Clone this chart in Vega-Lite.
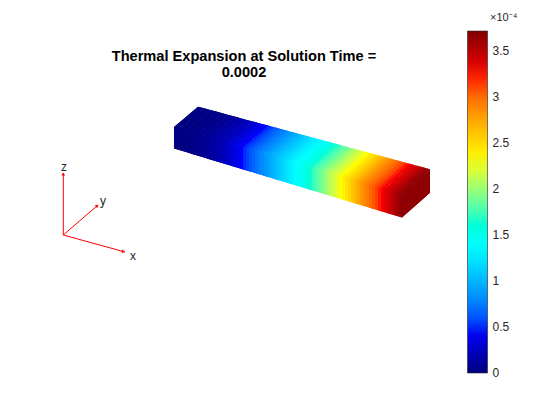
{"$schema":"https://vega.github.io/schema/vega-lite/v6.json","width":560,"height":420,"padding":0,"autosize":"none","background":"white","config":{"view":{"stroke":null}},
"title":{"text":["Thermal Expansion at Solution Time =","0.0002"],"font":"Liberation Sans","fontSize":14.6,"fontWeight":"bold","color":"#000000","anchor":"middle","frame":"group","dx":-36,"offset":-80,"lineHeight":16},
"datasets":{"beam":[
{"i":0,"v":0,"x":174,"y":148.5,"y2":127},{"i":0,"v":0,"x":180,"y":150.3,"y2":121.9},{"i":0,"v":0,"x":180,"y":128.8,"y2":121.9},{"i":0,"v":0,"x":198,"y":113.5,"y2":106.7},{"i":0,"v":0,"x":204.1,"y":108.3,"y2":108.3},
{"i":1,"v":0.01,"x":180,"y":150.3,"y2":128.8},{"i":1,"v":0.01,"x":186,"y":152.1,"y2":123.7},{"i":1,"v":0.01,"x":186,"y":130.6,"y2":123.7},{"i":1,"v":0.01,"x":204.1,"y":115.2,"y2":108.3},{"i":1,"v":0.01,"x":210.2,"y":110,"y2":110},
{"i":2,"v":0.02,"x":186,"y":152.1,"y2":130.6},{"i":2,"v":0.02,"x":192,"y":153.9,"y2":125.5},{"i":2,"v":0.02,"x":192,"y":132.4,"y2":125.5},{"i":2,"v":0.02,"x":210.2,"y":116.8,"y2":110},{"i":2,"v":0.02,"x":216.3,"y":111.6,"y2":111.6},
{"i":3,"v":0.03,"x":192,"y":153.9,"y2":132.4},{"i":3,"v":0.03,"x":198,"y":155.8,"y2":127.2},{"i":3,"v":0.03,"x":198,"y":134.2,"y2":127.2},{"i":3,"v":0.03,"x":216.3,"y":118.5,"y2":111.6},{"i":3,"v":0.03,"x":222.4,"y":113.3,"y2":113.3},
{"i":4,"v":0.05,"x":198,"y":155.8,"y2":134.2},{"i":4,"v":0.05,"x":204,"y":157.6,"y2":129},{"i":4,"v":0.05,"x":204,"y":135.9,"y2":129},{"i":4,"v":0.05,"x":222.4,"y":120.2,"y2":113.3},{"i":4,"v":0.05,"x":228.5,"y":114.9,"y2":114.9},
{"i":5,"v":0.09,"x":204,"y":157.6,"y2":135.9},{"i":5,"v":0.09,"x":210,"y":159.4,"y2":130.8},{"i":5,"v":0.09,"x":210,"y":137.7,"y2":130.8},{"i":5,"v":0.09,"x":228.5,"y":121.8,"y2":114.9},{"i":5,"v":0.09,"x":234.6,"y":116.6,"y2":116.6},
{"i":6,"v":0.13,"x":210,"y":159.4,"y2":137.7},{"i":6,"v":0.13,"x":216,"y":161.2,"y2":132.6},{"i":6,"v":0.13,"x":216,"y":139.5,"y2":132.6},{"i":6,"v":0.13,"x":234.6,"y":123.5,"y2":116.6},{"i":6,"v":0.13,"x":240.7,"y":118.2,"y2":118.2},
{"i":7,"v":0.17,"x":216,"y":161.2,"y2":139.5},{"i":7,"v":0.17,"x":222,"y":163,"y2":134.3},{"i":7,"v":0.17,"x":222,"y":141.3,"y2":134.3},{"i":7,"v":0.17,"x":240.7,"y":125.2,"y2":118.2},{"i":7,"v":0.17,"x":246.8,"y":119.9,"y2":119.9},
{"i":8,"v":0.222,"x":222,"y":163,"y2":141.3},{"i":8,"v":0.222,"x":225,"y":163.9,"y2":138.7},{"i":8,"v":0.222,"x":225,"y":142.2,"y2":138.7},{"i":8,"v":0.222,"x":246.8,"y":123.4,"y2":119.9},{"i":8,"v":0.222,"x":249.9,"y":120.7,"y2":120.7},
{"i":8.5,"v":0.258,"x":225,"y":163.9,"y2":142.2},{"i":8.5,"v":0.258,"x":228,"y":164.8,"y2":139.6},{"i":8.5,"v":0.258,"x":228,"y":143.1,"y2":139.6},{"i":8.5,"v":0.258,"x":249.9,"y":124.2,"y2":120.7},{"i":8.5,"v":0.258,"x":253,"y":121.5,"y2":121.5},
{"i":9,"v":0.292,"x":228,"y":164.8,"y2":143.1},{"i":9,"v":0.292,"x":231,"y":165.8,"y2":140.5},{"i":9,"v":0.292,"x":231,"y":144,"y2":140.5},{"i":9,"v":0.292,"x":253,"y":125,"y2":121.5},{"i":9,"v":0.292,"x":256,"y":122.3,"y2":122.3},
{"i":9.5,"v":0.33,"x":231,"y":165.8,"y2":144},{"i":9.5,"v":0.33,"x":234,"y":166.7,"y2":141.4},{"i":9.5,"v":0.33,"x":234,"y":144.9,"y2":141.4},{"i":9.5,"v":0.33,"x":256,"y":125.9,"y2":122.3},{"i":9.5,"v":0.33,"x":259.1,"y":123.2,"y2":123.2},
{"i":10,"v":0.37,"x":234,"y":166.7,"y2":144.9},{"i":10,"v":0.37,"x":237,"y":167.6,"y2":142.3},{"i":10,"v":0.37,"x":237,"y":145.8,"y2":142.3},{"i":10,"v":0.37,"x":259.1,"y":126.7,"y2":123.2},{"i":10,"v":0.37,"x":262.1,"y":124,"y2":124},
{"i":10.5,"v":0.41,"x":237,"y":167.6,"y2":145.8},{"i":10.5,"v":0.41,"x":240,"y":168.5,"y2":143.2},{"i":10.5,"v":0.41,"x":240,"y":146.7,"y2":143.2},{"i":10.5,"v":0.41,"x":262.1,"y":127.5,"y2":124},{"i":10.5,"v":0.41,"x":265.2,"y":124.8,"y2":124.8},
{"i":11,"v":0.45,"x":240,"y":168.5,"y2":146.7},{"i":11,"v":0.45,"x":243,"y":169.4,"y2":144.1},{"i":11,"v":0.45,"x":243,"y":147.6,"y2":144.1},{"i":11,"v":0.45,"x":265.2,"y":128.4,"y2":124.8},{"i":11,"v":0.45,"x":268.2,"y":125.6,"y2":125.6},
{"i":11.5,"v":0.5,"x":243,"y":169.4,"y2":147.6},{"i":11.5,"v":0.5,"x":246,"y":170.3,"y2":145},{"i":11.5,"v":0.5,"x":246,"y":148.5,"y2":145},{"i":11.5,"v":0.5,"x":268.2,"y":129.2,"y2":125.6},{"i":11.5,"v":0.5,"x":271.3,"y":126.5,"y2":126.5},
{"i":12,"v":0.55,"x":246,"y":170.3,"y2":148.5},{"i":12,"v":0.55,"x":249,"y":171.2,"y2":145.9},{"i":12,"v":0.55,"x":249,"y":149.4,"y2":145.9},{"i":12,"v":0.55,"x":271.3,"y":130,"y2":126.5},{"i":12,"v":0.55,"x":274.3,"y":127.3,"y2":127.3},
{"i":12.5,"v":0.605,"x":249,"y":171.2,"y2":149.4},{"i":12.5,"v":0.605,"x":252,"y":172.1,"y2":146.8},{"i":12.5,"v":0.605,"x":252,"y":150.3,"y2":146.8},{"i":12.5,"v":0.605,"x":274.3,"y":130.8,"y2":127.3},{"i":12.5,"v":0.605,"x":277.4,"y":128.1,"y2":128.1},
{"i":13,"v":0.655,"x":252,"y":172.1,"y2":150.3},{"i":13,"v":0.655,"x":255,"y":173,"y2":147.6},{"i":13,"v":0.655,"x":255,"y":151.2,"y2":147.6},{"i":13,"v":0.655,"x":277.4,"y":131.7,"y2":128.1},{"i":13,"v":0.655,"x":280.4,"y":128.9,"y2":128.9},
{"i":13.5,"v":0.705,"x":255,"y":173,"y2":151.2},{"i":13.5,"v":0.705,"x":258,"y":173.9,"y2":148.5},{"i":13.5,"v":0.705,"x":258,"y":152,"y2":148.5},{"i":13.5,"v":0.705,"x":280.4,"y":132.5,"y2":128.9},{"i":13.5,"v":0.705,"x":283.5,"y":129.8,"y2":129.8},
{"i":14,"v":0.755,"x":258,"y":173.9,"y2":152},{"i":14,"v":0.755,"x":261,"y":174.8,"y2":149.4},{"i":14,"v":0.755,"x":261,"y":152.9,"y2":149.4},{"i":14,"v":0.755,"x":283.5,"y":133.3,"y2":129.8},{"i":14,"v":0.755,"x":286.5,"y":130.6,"y2":130.6},
{"i":14.5,"v":0.805,"x":261,"y":174.8,"y2":152.9},{"i":14.5,"v":0.805,"x":264,"y":175.7,"y2":150.3},{"i":14.5,"v":0.805,"x":264,"y":153.8,"y2":150.3},{"i":14.5,"v":0.805,"x":286.5,"y":134.1,"y2":130.6},{"i":14.5,"v":0.805,"x":289.6,"y":131.4,"y2":131.4},
{"i":15,"v":0.855,"x":264,"y":175.7,"y2":153.8},{"i":15,"v":0.855,"x":267,"y":176.7,"y2":151.2},{"i":15,"v":0.855,"x":267,"y":154.7,"y2":151.2},{"i":15,"v":0.855,"x":289.6,"y":135,"y2":131.4},{"i":15,"v":0.855,"x":292.6,"y":132.2,"y2":132.2},
{"i":15.5,"v":0.905,"x":267,"y":176.7,"y2":154.7},{"i":15.5,"v":0.905,"x":270,"y":177.6,"y2":152.1},{"i":15.5,"v":0.905,"x":270,"y":155.6,"y2":152.1},{"i":15.5,"v":0.905,"x":292.6,"y":135.8,"y2":132.2},{"i":15.5,"v":0.905,"x":295.7,"y":133.1,"y2":133.1},
{"i":16,"v":0.955,"x":270,"y":177.6,"y2":155.6},{"i":16,"v":0.955,"x":273,"y":178.5,"y2":153},{"i":16,"v":0.955,"x":273,"y":156.5,"y2":153},{"i":16,"v":0.955,"x":295.7,"y":136.6,"y2":133.1},{"i":16,"v":0.955,"x":298.7,"y":133.9,"y2":133.9},
{"i":16.5,"v":1.01,"x":273,"y":178.5,"y2":156.5},{"i":16.5,"v":1.01,"x":276,"y":179.4,"y2":153.9},{"i":16.5,"v":1.01,"x":276,"y":157.4,"y2":153.9},{"i":16.5,"v":1.01,"x":298.7,"y":137.4,"y2":133.9},{"i":16.5,"v":1.01,"x":301.8,"y":134.7,"y2":134.7},
{"i":17,"v":1.06,"x":276,"y":179.4,"y2":157.4},{"i":17,"v":1.06,"x":279,"y":180.3,"y2":154.8},{"i":17,"v":1.06,"x":279,"y":158.3,"y2":154.8},{"i":17,"v":1.06,"x":301.8,"y":138.3,"y2":134.7},{"i":17,"v":1.06,"x":304.8,"y":135.5,"y2":135.5},
{"i":17.5,"v":1.115,"x":279,"y":180.3,"y2":158.3},{"i":17.5,"v":1.115,"x":282,"y":181.2,"y2":155.7},{"i":17.5,"v":1.115,"x":282,"y":159.2,"y2":155.7},{"i":17.5,"v":1.115,"x":304.8,"y":139.1,"y2":135.5},{"i":17.5,"v":1.115,"x":307.9,"y":136.3,"y2":136.3},
{"i":18,"v":1.165,"x":282,"y":181.2,"y2":159.2},{"i":18,"v":1.165,"x":285,"y":182.1,"y2":156.6},{"i":18,"v":1.165,"x":285,"y":160.1,"y2":156.6},{"i":18,"v":1.165,"x":307.9,"y":139.9,"y2":136.3},{"i":18,"v":1.165,"x":310.9,"y":137.2,"y2":137.2},
{"i":18.5,"v":1.22,"x":285,"y":182.1,"y2":160.1},{"i":18.5,"v":1.22,"x":288,"y":183,"y2":157.4},{"i":18.5,"v":1.22,"x":288,"y":161,"y2":157.4},{"i":18.5,"v":1.22,"x":310.9,"y":140.8,"y2":137.2},{"i":18.5,"v":1.22,"x":314,"y":138,"y2":138},
{"i":19,"v":1.27,"x":288,"y":183,"y2":161},{"i":19,"v":1.27,"x":291,"y":183.9,"y2":158.3},{"i":19,"v":1.27,"x":291,"y":161.9,"y2":158.3},{"i":19,"v":1.27,"x":314,"y":141.6,"y2":138},{"i":19,"v":1.27,"x":317,"y":138.8,"y2":138.8},
{"i":19.5,"v":1.32,"x":291,"y":183.9,"y2":161.9},{"i":19.5,"v":1.32,"x":294,"y":184.8,"y2":159.2},{"i":19.5,"v":1.32,"x":294,"y":162.8,"y2":159.2},{"i":19.5,"v":1.32,"x":317,"y":142.4,"y2":138.8},{"i":19.5,"v":1.32,"x":320.1,"y":139.6,"y2":139.6},
{"i":20,"v":1.37,"x":294,"y":184.8,"y2":162.8},{"i":20,"v":1.37,"x":297,"y":185.7,"y2":160.1},{"i":20,"v":1.37,"x":297,"y":163.7,"y2":160.1},{"i":20,"v":1.37,"x":320.1,"y":143.2,"y2":139.6},{"i":20,"v":1.37,"x":323.2,"y":140.5,"y2":140.5},
{"i":20.5,"v":1.42,"x":297,"y":185.7,"y2":163.7},{"i":20.5,"v":1.42,"x":300,"y":186.6,"y2":161},{"i":20.5,"v":1.42,"x":300,"y":164.6,"y2":161},{"i":20.5,"v":1.42,"x":323.2,"y":144.1,"y2":140.5},{"i":20.5,"v":1.42,"x":326.2,"y":141.3,"y2":141.3},
{"i":21,"v":1.47,"x":300,"y":186.6,"y2":164.6},{"i":21,"v":1.47,"x":303,"y":187.5,"y2":161.9},{"i":21,"v":1.47,"x":303,"y":165.5,"y2":161.9},{"i":21,"v":1.47,"x":326.2,"y":144.9,"y2":141.3},{"i":21,"v":1.47,"x":329.3,"y":142.1,"y2":142.1},
{"i":21.5,"v":1.53,"x":303,"y":187.5,"y2":165.5},{"i":21.5,"v":1.53,"x":306,"y":188.5,"y2":162.8},{"i":21.5,"v":1.53,"x":306,"y":166.4,"y2":162.8},{"i":21.5,"v":1.53,"x":329.3,"y":145.7,"y2":142.1},{"i":21.5,"v":1.53,"x":332.3,"y":142.9,"y2":142.9},
{"i":22,"v":1.59,"x":306,"y":188.5,"y2":166.4},{"i":22,"v":1.59,"x":309,"y":189.4,"y2":163.7},{"i":22,"v":1.59,"x":309,"y":167.3,"y2":163.7},{"i":22,"v":1.59,"x":332.3,"y":146.5,"y2":142.9},{"i":22,"v":1.59,"x":335.4,"y":143.8,"y2":143.8},
{"i":22.5,"v":1.65,"x":309,"y":189.4,"y2":167.3},{"i":22.5,"v":1.65,"x":312,"y":190.3,"y2":164.6},{"i":22.5,"v":1.65,"x":312,"y":168.2,"y2":164.6},{"i":22.5,"v":1.65,"x":335.4,"y":147.4,"y2":143.8},{"i":22.5,"v":1.65,"x":338.4,"y":144.6,"y2":144.6},
{"i":23,"v":1.72,"x":312,"y":190.3,"y2":168.2},{"i":23,"v":1.72,"x":315,"y":191.2,"y2":165.5},{"i":23,"v":1.72,"x":315,"y":169,"y2":165.5},{"i":23,"v":1.72,"x":338.4,"y":148.2,"y2":144.6},{"i":23,"v":1.72,"x":341.5,"y":145.4,"y2":145.4},
{"i":23.5,"v":1.78,"x":315,"y":191.2,"y2":169},{"i":23.5,"v":1.78,"x":318,"y":192.1,"y2":166.4},{"i":23.5,"v":1.78,"x":318,"y":169.9,"y2":166.4},{"i":23.5,"v":1.78,"x":341.5,"y":149,"y2":145.4},{"i":23.5,"v":1.78,"x":344.5,"y":146.2,"y2":146.2},
{"i":24,"v":1.84,"x":318,"y":192.1,"y2":169.9},{"i":24,"v":1.84,"x":321,"y":193,"y2":167.3},{"i":24,"v":1.84,"x":321,"y":170.8,"y2":167.3},{"i":24,"v":1.84,"x":344.5,"y":149.8,"y2":146.2},{"i":24,"v":1.84,"x":347.6,"y":147.1,"y2":147.1},
{"i":24.5,"v":1.91,"x":321,"y":193,"y2":170.8},{"i":24.5,"v":1.91,"x":324,"y":193.9,"y2":168.1},{"i":24.5,"v":1.91,"x":324,"y":171.7,"y2":168.1},{"i":24.5,"v":1.91,"x":347.6,"y":150.7,"y2":147.1},{"i":24.5,"v":1.91,"x":350.6,"y":147.9,"y2":147.9},
{"i":25,"v":1.99,"x":324,"y":193.9,"y2":171.7},{"i":25,"v":1.99,"x":327,"y":194.8,"y2":169},{"i":25,"v":1.99,"x":327,"y":172.6,"y2":169},{"i":25,"v":1.99,"x":350.6,"y":151.5,"y2":147.9},{"i":25,"v":1.99,"x":353.7,"y":148.7,"y2":148.7},
{"i":25.5,"v":2.06,"x":327,"y":194.8,"y2":172.6},{"i":25.5,"v":2.06,"x":330,"y":195.7,"y2":169.9},{"i":25.5,"v":2.06,"x":330,"y":173.5,"y2":169.9},{"i":25.5,"v":2.06,"x":353.7,"y":152.3,"y2":148.7},{"i":25.5,"v":2.06,"x":356.7,"y":149.5,"y2":149.5},
{"i":26,"v":2.12,"x":330,"y":195.7,"y2":173.5},{"i":26,"v":2.12,"x":333,"y":196.6,"y2":170.8},{"i":26,"v":2.12,"x":333,"y":174.4,"y2":170.8},{"i":26,"v":2.12,"x":356.7,"y":153.1,"y2":149.5},{"i":26,"v":2.12,"x":359.8,"y":150.3,"y2":150.3},
{"i":26.5,"v":2.18,"x":333,"y":196.6,"y2":174.4},{"i":26.5,"v":2.18,"x":336,"y":197.5,"y2":171.7},{"i":26.5,"v":2.18,"x":336,"y":175.3,"y2":171.7},{"i":26.5,"v":2.18,"x":359.8,"y":154,"y2":150.3},{"i":26.5,"v":2.18,"x":362.8,"y":151.2,"y2":151.2},
{"i":27,"v":2.24,"x":336,"y":197.5,"y2":175.3},{"i":27,"v":2.24,"x":339,"y":198.4,"y2":172.6},{"i":27,"v":2.24,"x":339,"y":176.2,"y2":172.6},{"i":27,"v":2.24,"x":362.8,"y":154.8,"y2":151.2},{"i":27,"v":2.24,"x":365.9,"y":152,"y2":152},
{"i":27.5,"v":2.31,"x":339,"y":198.4,"y2":176.2},{"i":27.5,"v":2.31,"x":342,"y":199.3,"y2":173.5},{"i":27.5,"v":2.31,"x":342,"y":177.1,"y2":173.5},{"i":27.5,"v":2.31,"x":365.9,"y":155.6,"y2":152},{"i":27.5,"v":2.31,"x":368.9,"y":152.8,"y2":152.8},
{"i":28,"v":2.37,"x":342,"y":199.3,"y2":177.1},{"i":28,"v":2.37,"x":345,"y":200.3,"y2":174.4},{"i":28,"v":2.37,"x":345,"y":178,"y2":174.4},{"i":28,"v":2.37,"x":368.9,"y":156.4,"y2":152.8},{"i":28,"v":2.37,"x":372,"y":153.6,"y2":153.6},
{"i":28.5,"v":2.45,"x":345,"y":200.3,"y2":178},{"i":28.5,"v":2.45,"x":348,"y":201.2,"y2":175.3},{"i":28.5,"v":2.45,"x":348,"y":178.9,"y2":175.3},{"i":28.5,"v":2.45,"x":372,"y":157.3,"y2":153.6},{"i":28.5,"v":2.45,"x":375.1,"y":154.5,"y2":154.5},
{"i":29,"v":2.52,"x":348,"y":201.2,"y2":178.9},{"i":29,"v":2.52,"x":351,"y":202.1,"y2":176.2},{"i":29,"v":2.52,"x":351,"y":179.8,"y2":176.2},{"i":29,"v":2.52,"x":375.1,"y":158.1,"y2":154.5},{"i":29,"v":2.52,"x":378.1,"y":155.3,"y2":155.3},
{"i":29.5,"v":2.6,"x":351,"y":202.1,"y2":179.8},{"i":29.5,"v":2.6,"x":354,"y":203,"y2":177.1},{"i":29.5,"v":2.6,"x":354,"y":180.7,"y2":177.1},{"i":29.5,"v":2.6,"x":378.1,"y":158.9,"y2":155.3},{"i":29.5,"v":2.6,"x":381.2,"y":156.1,"y2":156.1},
{"i":30,"v":2.67,"x":354,"y":203,"y2":180.7},{"i":30,"v":2.67,"x":357,"y":203.9,"y2":178},{"i":30,"v":2.67,"x":357,"y":181.6,"y2":178},{"i":30,"v":2.67,"x":381.2,"y":159.7,"y2":156.1},{"i":30,"v":2.67,"x":384.2,"y":156.9,"y2":156.9},
{"i":30.5,"v":2.745,"x":357,"y":203.9,"y2":181.6},{"i":30.5,"v":2.745,"x":360,"y":204.8,"y2":178.8},{"i":30.5,"v":2.745,"x":360,"y":182.5,"y2":178.8},{"i":30.5,"v":2.745,"x":384.2,"y":160.5,"y2":156.9},{"i":30.5,"v":2.745,"x":387.3,"y":157.8,"y2":157.8},
{"i":31,"v":2.815,"x":360,"y":204.8,"y2":182.5},{"i":31,"v":2.815,"x":363,"y":205.7,"y2":179.7},{"i":31,"v":2.815,"x":363,"y":183.4,"y2":179.7},{"i":31,"v":2.815,"x":387.3,"y":161.4,"y2":157.8},{"i":31,"v":2.815,"x":390.3,"y":158.6,"y2":158.6},
{"i":31.5,"v":2.88,"x":363,"y":205.7,"y2":183.4},{"i":31.5,"v":2.88,"x":366,"y":206.6,"y2":180.6},{"i":31.5,"v":2.88,"x":366,"y":184.3,"y2":180.6},{"i":31.5,"v":2.88,"x":390.3,"y":162.2,"y2":158.6},{"i":31.5,"v":2.88,"x":393.4,"y":159.4,"y2":159.4},
{"i":32,"v":2.94,"x":366,"y":206.6,"y2":184.3},{"i":32,"v":2.94,"x":369,"y":207.5,"y2":181.5},{"i":32,"v":2.94,"x":369,"y":185.1,"y2":181.5},{"i":32,"v":2.94,"x":393.4,"y":163,"y2":159.4},{"i":32,"v":2.94,"x":396.4,"y":160.2,"y2":160.2},
{"i":32.5,"v":3.005,"x":369,"y":207.5,"y2":185.1},{"i":32.5,"v":3.005,"x":372,"y":208.4,"y2":182.4},{"i":32.5,"v":3.005,"x":372,"y":186,"y2":182.4},{"i":32.5,"v":3.005,"x":396.4,"y":163.8,"y2":160.2},{"i":32.5,"v":3.005,"x":399.5,"y":161.1,"y2":161.1},
{"i":33,"v":3.075,"x":372,"y":208.4,"y2":186},{"i":33,"v":3.075,"x":375,"y":209.3,"y2":183.3},{"i":33,"v":3.075,"x":375,"y":186.9,"y2":183.3},{"i":33,"v":3.075,"x":399.5,"y":164.7,"y2":161.1},{"i":33,"v":3.075,"x":402.5,"y":161.9,"y2":161.9},
{"i":33.5,"v":3.14,"x":375,"y":209.3,"y2":186.9},{"i":33.5,"v":3.14,"x":378,"y":210.2,"y2":184.2},{"i":33.5,"v":3.14,"x":378,"y":187.8,"y2":184.2},{"i":33.5,"v":3.14,"x":402.5,"y":165.5,"y2":161.9},{"i":33.5,"v":3.14,"x":405.6,"y":162.7,"y2":162.7},
{"i":34,"v":3.21,"x":378,"y":210.2,"y2":187.8},{"i":34,"v":3.21,"x":381,"y":211.2,"y2":185.1},{"i":34,"v":3.21,"x":381,"y":188.7,"y2":185.1},{"i":34,"v":3.21,"x":405.6,"y":166.3,"y2":162.7},{"i":34,"v":3.21,"x":408.6,"y":163.5,"y2":163.5},
{"i":34.5,"v":3.27,"x":381,"y":211.2,"y2":188.7},{"i":34.5,"v":3.27,"x":384,"y":212.1,"y2":186},{"i":34.5,"v":3.27,"x":384,"y":189.6,"y2":186},{"i":34.5,"v":3.27,"x":408.6,"y":167.1,"y2":163.5},{"i":34.5,"v":3.27,"x":411.7,"y":164.3,"y2":164.3},
{"i":35,"v":3.34,"x":384,"y":212.1,"y2":189.6},{"i":35,"v":3.34,"x":387,"y":213,"y2":186.9},{"i":35,"v":3.34,"x":387,"y":190.5,"y2":186.9},{"i":35,"v":3.34,"x":411.7,"y":168,"y2":164.3},{"i":35,"v":3.34,"x":414.7,"y":165.2,"y2":165.2},
{"i":35.5,"v":3.4,"x":387,"y":213,"y2":190.5},{"i":35.5,"v":3.4,"x":390,"y":213.9,"y2":187.8},{"i":35.5,"v":3.4,"x":390,"y":191.4,"y2":187.8},{"i":35.5,"v":3.4,"x":414.7,"y":168.8,"y2":165.2},{"i":35.5,"v":3.4,"x":417.8,"y":166,"y2":166},
{"i":36,"v":3.47,"x":390,"y":213.9,"y2":191.4},{"i":36,"v":3.47,"x":393,"y":214.8,"y2":188.6},{"i":36,"v":3.47,"x":393,"y":192.3,"y2":188.6},{"i":36,"v":3.47,"x":417.8,"y":169.6,"y2":166},{"i":36,"v":3.47,"x":420.8,"y":166.8,"y2":166.8},
{"i":36.5,"v":3.53,"x":393,"y":214.8,"y2":192.3},{"i":36.5,"v":3.53,"x":396,"y":215.7,"y2":189.5},{"i":36.5,"v":3.53,"x":396,"y":193.2,"y2":189.5},{"i":36.5,"v":3.53,"x":420.8,"y":170.4,"y2":166.8},{"i":36.5,"v":3.53,"x":423.9,"y":167.6,"y2":167.6},
{"i":37,"v":3.6,"x":396,"y":215.7,"y2":193.2},{"i":37,"v":3.6,"x":399,"y":216.6,"y2":190.4},{"i":37,"v":3.6,"x":399,"y":194.1,"y2":190.4},{"i":37,"v":3.6,"x":423.9,"y":171.2,"y2":167.6},{"i":37,"v":3.6,"x":426.9,"y":168.5,"y2":168.5},
{"i":37.5,"v":3.65,"x":399,"y":216.6,"y2":194.1},{"i":37.5,"v":3.65,"x":402,"y":217.5,"y2":191.3},{"i":37.5,"v":3.65,"x":402,"y":195,"y2":191.3},{"i":37.5,"v":3.65,"x":426.9,"y":172.1,"y2":168.5},{"i":37.5,"v":3.65,"x":430,"y":169.3,"y2":169.3},
{"i":38,"v":3.66,"x":402,"y":217.5,"y2":195},{"i":38,"v":3.66,"x":430,"y":192.7,"y2":169.3}
],
"triad":[{"a":"x","x":63.3,"y":235,"x2":125,"y2":252,"hx":123.5,"hy":251.6,"dir":105},{"a":"y","x":63.3,"y":235,"x2":98,"y2":205,"hx":97.2,"hy":205.7,"dir":49},{"a":"z","x":63.3,"y":235,"x2":63.3,"y2":173,"hx":63.3,"hy":174,"dir":0}],
"axisLabels":[{"t":"x","x":133,"y":256},{"t":"y","x":103,"y":201},{"t":"z","x":64,"y":167}],
"ticks":[{"v":0.5,"y":327.3},{"v":1,"y":281.3},{"v":1.5,"y":235.3},{"v":2,"y":189.3},{"v":2.5,"y":143.3},{"v":3,"y":97.3},{"v":3.5,"y":51.3}],
"exponent":[{"t":"×10⁻⁴","x":490,"y":18}]},
"layer":[
{"data":{"name":"beam"},"mark":{"type":"area"},"encoding":{
"x":{"field":"x","type":"quantitative","scale":{"domain":[0,560],"range":[0,560],"nice":false,"zero":false},"axis":null},
"y":{"field":"y","type":"quantitative","stack":null,"scale":{"domain":[420,0],"range":[420,0],"nice":false,"zero":false},"axis":null},
"y2":{"field":"y2"},
"detail":{"field":"i"},
"color":{"field":"v","type":"quantitative","scale":{"domain":[0,0.4625,1.3875,2.3125,3.2375,3.717],"range":["#000080","#0000ff","#00ffff","#ffff00","#ff0000","#800000"]},"legend":{"type":"gradient","orient":"none","legendX":467.5,"legendY":31,"direction":"vertical","gradientLength":342,"gradientThickness":20,"title":null,"tickCount":8,"format":".2~f","labelFont":"Liberation Sans","labelFontSize":12,"labelColor":"#262626","labelOffset":5,"labelOverlap":false,"gradientStrokeColor":"#262626","gradientStrokeWidth":0.6,"encode":{"labels":{"update":{"baseline":{"value":"middle"}}}}}}
}},
{"data":{"name":"beam"},"mark":{"type":"area"},"encoding":{
"x":{"field":"x","type":"quantitative"},
"y":{"field":"y","type":"quantitative","stack":null},
"y2":{"field":"y2"},
"detail":{"field":"i"},
"color":{"field":"v","type":"quantitative"}
}},
{"data":{"name":"triad"},"mark":{"type":"rule","color":"#ff0000","strokeWidth":1},"encoding":{"x":{"field":"x","type":"quantitative"},"y":{"field":"y","type":"quantitative"},"x2":{"field":"x2"},"y2":{"field":"y2"}}},
{"data":{"name":"triad"},"mark":{"type":"point","shape":"triangle-up","filled":true,"color":"#ff0000","size":14,"opacity":1},"encoding":{"x":{"field":"hx","type":"quantitative"},"y":{"field":"hy","type":"quantitative"},"angle":{"field":"dir","type":"quantitative","scale":null}}},
{"data":{"name":"axisLabels"},"mark":{"type":"text","font":"Liberation Sans","fontSize":12,"color":"#262626","align":"center","baseline":"middle"},"encoding":{"x":{"field":"x","type":"quantitative"},"y":{"field":"y","type":"quantitative"},"text":{"field":"t"}}},
{"data":{"name":"exponent"},"mark":{"type":"text","font":"Liberation Sans","fontSize":11,"color":"#262626","align":"left","baseline":"middle"},"encoding":{"x":{"field":"x","type":"quantitative"},"y":{"field":"y","type":"quantitative"},"text":{"field":"t"}}},
{"data":{"name":"ticks"},"mark":{"type":"rule","color":"#262626","strokeWidth":1},"encoding":{"x":{"datum":484.5},"x2":{"datum":487.5},"y":{"field":"y","type":"quantitative"}}}
]}
